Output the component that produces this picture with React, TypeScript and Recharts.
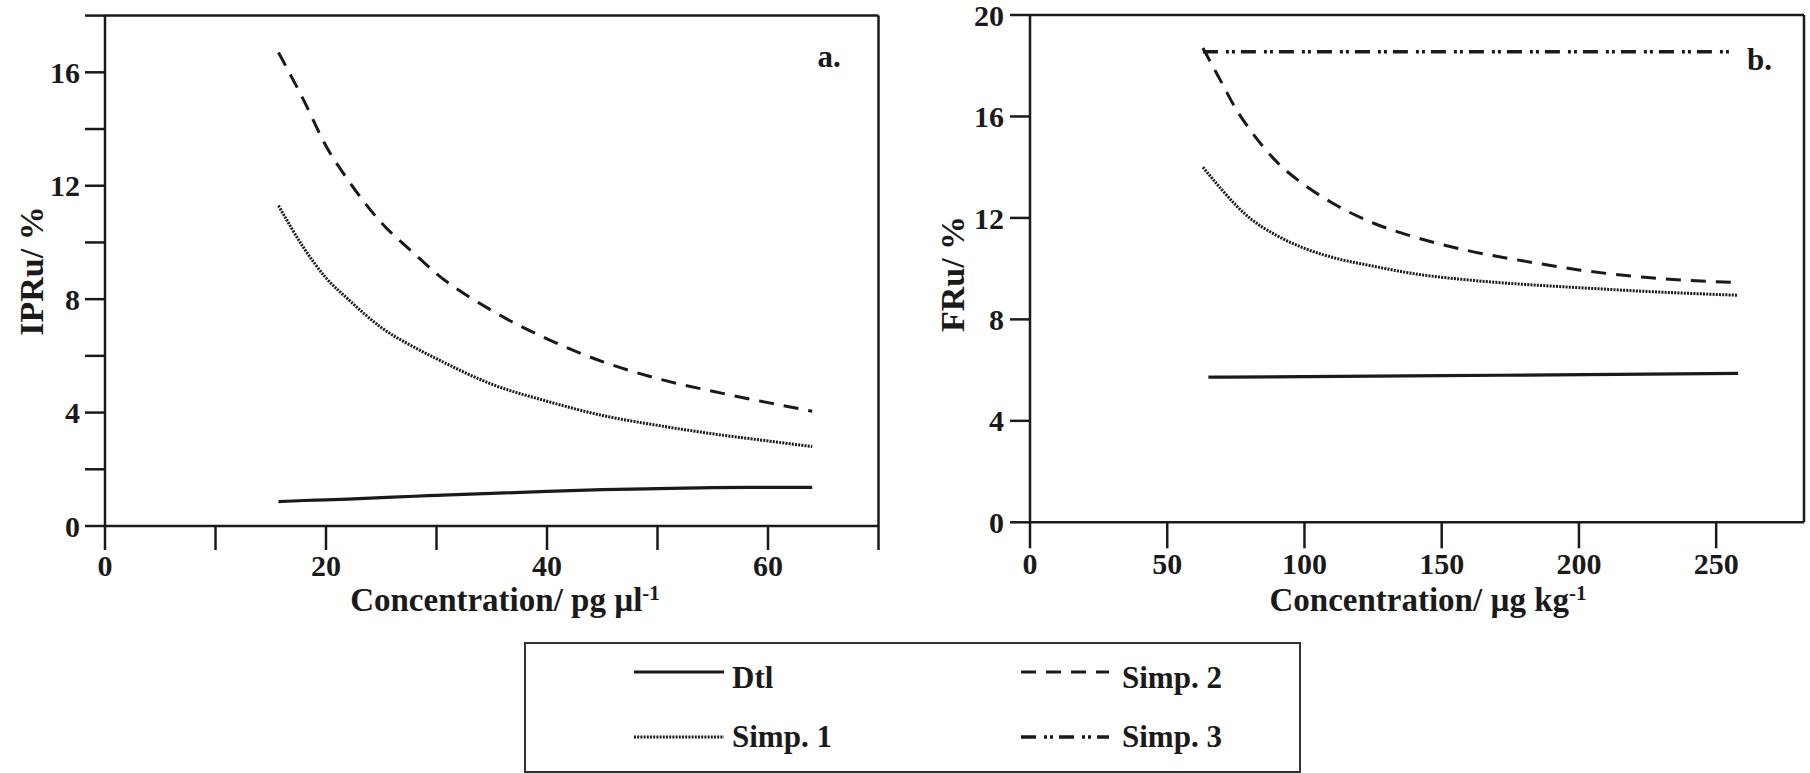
import { LineChart, Line, XAxis, YAxis, ReferenceLine } from "recharts";

const FONT = "Liberation Serif, Times New Roman, DejaVu Serif, serif";
const INK = "#1a1a1a";

// panel a: IPRu vs concentration (pg/µl)
const concA = [15.7, 18, 20, 22, 25, 28, 30, 35, 40, 45, 50, 55, 60, 64];
const dtlA = [0.86, 0.9, 0.92, 0.95, 1.0, 1.05, 1.08, 1.15, 1.22, 1.28, 1.32, 1.35, 1.36, 1.36];
const simp1A = [11.3, 9.8, 8.75, 8.0, 7.0, 6.3, 5.9, 5.0, 4.4, 3.9, 3.55, 3.25, 3.0, 2.8];
const simp2A = [16.7, 15.0, 13.4, 12.2, 10.7, 9.6, 8.9, 7.6, 6.6, 5.8, 5.2, 4.75, 4.35, 4.05];

// panel b: FRu vs concentration (µg/kg)
const concB = [63, 70, 75, 80, 90, 100, 110, 125, 140, 160, 180, 200, 225, 258];
const simp1B = [14.0, 13.1, 12.5, 12.0, 11.3, 10.8, 10.45, 10.1, 9.8, 9.55, 9.38, 9.25, 9.1, 8.95];
const simp2B = [18.7, 17.3, 16.3, 15.5, 14.2, 13.3, 12.6, 11.8, 11.25, 10.7, 10.3, 9.95, 9.65, 9.45];
const concDtlB = [65, 150, 258];
const dtlB = [5.72, 5.78, 5.87];
const concSimp3B = [63, 256];
const simp3B = [18.55, 18.55];

const xTicksA = [0, 10, 20, 30, 40, 50, 60, 70];
const xLabelsA = [0, 20, 40, 60];
const yTicksA = [0, 2, 4, 6, 8, 10, 12, 14, 16, 18];
const yLabelsA = [0, 4, 8, 12, 16];
const xTicksB = [0, 50, 100, 150, 200, 250];
const yTicksB = [0, 4, 8, 12, 16, 20];

const STYLES: Record<string, { dash?: string; width: number }> = {
  Dtl: { width: 3.2 },
  "Simp. 1": { dash: "2 1.2", width: 3 },
  "Simp. 2": { dash: "15 10", width: 3 },
  "Simp. 3": { dash: "15 8 3 3 3 6", width: 3.5 },
};
const legendOrder = ["Dtl", "Simp. 2", "Simp. 1", "Simp. 3"];

const pts = (xs: number[], ys: number[]) => xs.map((x, i) => ({ x, y: ys[i] }));

const textStyle = { fontFamily: FONT, fontWeight: 700 };
const axisStroke = { stroke: INK, strokeWidth: 2.5 };
const tickFont = { fill: INK, fontSize: 30, style: textStyle };
const only = (labels: number[]) => (v: number) => (labels.includes(v) ? String(v) : "");

const series = (name: string, data: { x: number; y: number }[]) => (
  <Line
    key={name}
    data={data}
    dataKey="y"
    name={name}
    type="monotone"
    stroke={INK}
    strokeWidth={STYLES[name].width}
    strokeDasharray={STYLES[name].dash}
    dot={false}
    activeDot={false}
    isAnimationActive={false}
  />
);

const xTitle = (cx: number, y: number, unit: string) => () => (
  <text x={cx} y={y} textAnchor="middle" style={textStyle} fontSize={33} fill={INK}>
    {`Concentration/ ${unit}`}
    <tspan fontSize={21} dy={-11}>-1</tspan>
  </text>
);

const yTitle = (cx: number, cy: number, text: string) => () => (
  <text
    x={cx}
    y={cy}
    dy="0.35em"
    transform={`rotate(-90 ${cx} ${cy})`}
    textAnchor="middle"
    style={textStyle}
    fontSize={34}
    fill={INK}
  >
    {text}
  </text>
);

const corner = (text: string, dx: number, dy: number) => (props: any) => {
  const vb = props.viewBox || {};
  return (
    <text x={vb.x + vb.width - dx} y={vb.y + dy} style={textStyle} fontSize={31} fill={INK}>
      {text}
    </text>
  );
};

export default function App() {
  return (
    <div style={{ position: "absolute", left: 0, top: 0, width: 1810, height: 773, background: "#fff" }}>
      <div style={{ position: "absolute", left: 0, top: 0 }}>
        <LineChart width={900} height={640} margin={{ top: 15.6, right: 21.5, left: 0, bottom: 0 }}>
          <XAxis
            dataKey="x"
            type="number"
            domain={[0, 70]}
            ticks={xTicksA}
            interval={0}
            height={114}
            tickSize={24}
            tickMargin={5}
            axisLine={axisStroke}
            tickLine={axisStroke}
            tick={tickFont}
            tickFormatter={only(xLabelsA)}
            label={{ content: xTitle(505, 611, "pg µl") }}
          />
          <YAxis
            type="number"
            domain={[0, 18]}
            ticks={yTicksA}
            interval={0}
            width={105}
            tickSize={20}
            tickMargin={5}
            axisLine={axisStroke}
            tickLine={axisStroke}
            tick={tickFont}
            tickFormatter={only(yLabelsA)}
            label={{ content: yTitle(31, 271, "IPRu/ %") }}
          />
          <ReferenceLine y={18} stroke={INK} strokeWidth={2.5} label={{ content: corner("a.", 61, 51) }} />
          <ReferenceLine x={70} stroke={INK} strokeWidth={2.5} />
          {series("Dtl", pts(concA, dtlA))}
          {series("Simp. 1", pts(concA, simp1A))}
          {series("Simp. 2", pts(concA, simp2A))}
        </LineChart>
      </div>

      <div style={{ position: "absolute", left: 900, top: 0 }}>
        <LineChart width={910} height={640} margin={{ top: 15, right: 6, left: 0, bottom: 0 }}>
          <XAxis
            dataKey="x"
            type="number"
            domain={[0, 282]}
            ticks={xTicksB}
            interval={0}
            height={117.7}
            tickSize={26}
            tickMargin={4}
            axisLine={axisStroke}
            tickLine={axisStroke}
            tick={tickFont}
            label={{ content: xTitle(528, 611, "µg kg") }}
          />
          <YAxis
            type="number"
            domain={[0, 20]}
            ticks={yTicksB}
            interval={0}
            width={130}
            tickSize={20}
            tickMargin={6}
            axisLine={axisStroke}
            tickLine={axisStroke}
            tick={tickFont}
            label={{ content: yTitle(52, 274, "FRu/ %") }}
          />
          <ReferenceLine y={20} stroke={INK} strokeWidth={2.5} label={{ content: corner("b.", 57, 55) }} />
          <ReferenceLine x={282} stroke={INK} strokeWidth={2.5} />
          {series("Dtl", pts(concDtlB, dtlB))}
          {series("Simp. 1", pts(concB, simp1B))}
          {series("Simp. 2", pts(concB, simp2B))}
          {series("Simp. 3", pts(concSimp3B, simp3B))}
        </LineChart>
      </div>

      <svg style={{ position: "absolute", left: 0, top: 620 }} width={1810} height={153}>
        <rect x={525} y={23} width={775} height={129} fill="none" stroke="#333" strokeWidth={2} />
        {legendOrder.map((name, i) => {
          const col = i % 2;
          const row = Math.floor(i / 2);
          const x0 = col === 0 ? 634 : 1021;
          const x1 = col === 0 ? 724 : 1109;
          const tx = col === 0 ? 732 : 1122;
          const ly = row === 0 ? 52 : 117;
          const by = row === 0 ? 68 : 127;
          return (
            <g key={name}>
              <line
                x1={x0}
                x2={x1}
                y1={ly}
                y2={ly}
                stroke={INK}
                strokeWidth={STYLES[name].width}
                strokeDasharray={STYLES[name].dash}
              />
              <text x={tx} y={by} style={textStyle} fontSize={31} fill={INK}>
                {name}
              </text>
            </g>
          );
        })}
      </svg>
    </div>
  );
}
